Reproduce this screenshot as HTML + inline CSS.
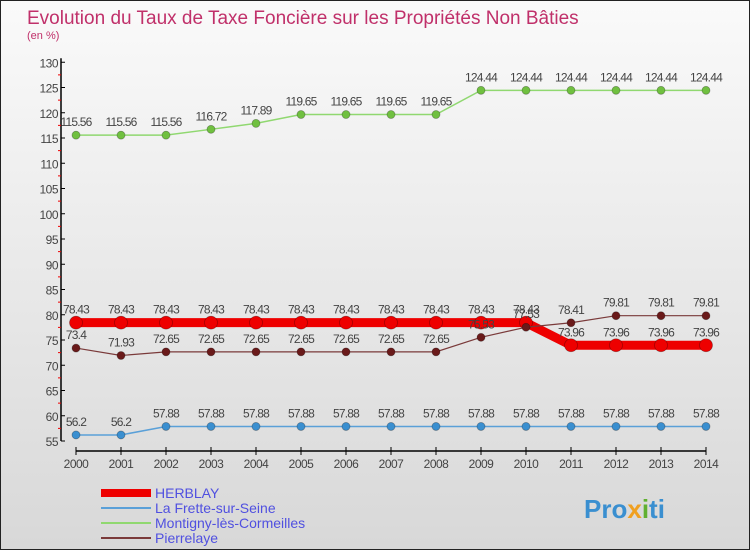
<!DOCTYPE html>
<html><head><meta charset="utf-8"><style>
body{margin:0;width:750px;height:550px;overflow:hidden;font-family:"Liberation Sans","DejaVu Sans",sans-serif}
#wrap{position:absolute;left:0;top:0;width:748px;height:548px;border:1px solid #222;background:linear-gradient(#fafafa,#d8d8d8)}
</style></head><body>
<div id="wrap">
<svg id="chart" width="748" height="548" xmlns="http://www.w3.org/2000/svg">
<text x="26" y="23" font-size="19" fill="#c0306a">Evolution du Taux de Taxe Foncière sur les Propriétés Non Bâties</text>
<text x="26" y="38" font-size="11" fill="#c0306a">(en %)</text>
<g id="axes"></g><g id="series"></g><g id="legend"></g>
<text x="583" y="517" font-size="26" font-weight="bold" fill="#3a8fd0">Pro<tspan fill="#f0a020">x</tspan><tspan fill="#60b030">i</tspan>ti</text>
</svg></div>
<script>
const years=[2000,2001,2002,2003,2004,2005,2006,2007,2008,2009,2010,2011,2012,2013,2014];
const herblay=[78.43,78.43,78.43,78.43,78.43,78.43,78.43,78.43,78.43,78.43,78.43,73.96,73.96,73.96,73.96];
const frette=[56.2,56.2,57.88,57.88,57.88,57.88,57.88,57.88,57.88,57.88,57.88,57.88,57.88,57.88,57.88];
const montigny=[115.56,115.56,115.56,116.72,117.89,119.65,119.65,119.65,119.65,124.44,124.44,124.44,124.44,124.44,124.44];
const pierrelaye=[73.4,71.93,72.65,72.65,72.65,72.65,72.65,72.65,72.65,75.53,77.53,78.41,79.81,79.81,79.81];
const yTicks=[55,60,65,70,75,80,85,90,95,100,105,110,115,120,125,130];
const seriesNames=["HERBLAY","La Frette-sur-Seine","Montigny-lès-Cormeilles","Pierrelaye"];
const NS="http://www.w3.org/2000/svg";
const x=i=>75+i*45.0;
const y=v=>440-(v-55)*5.05;
function mk(tag,attrs,parent,txt){const e=document.createElementNS(NS,tag);for(const k in attrs)e.setAttribute(k,attrs[k]);if(txt!==undefined)e.textContent=txt;parent.appendChild(e);return e;}
const ax=document.getElementById('axes');
let l=mk('line',{x1:60,y1:y(130)-4,x2:60,y2:y(55),stroke:'#000','stroke-width':1.5},ax);


yTicks.forEach(t=>{mk('line',{x1:60,y1:y(t),x2:64,y2:y(t),stroke:'#000'},ax);
 if(t<130)mk('line',{x1:57,y1:y(t+2.5),x2:60,y2:y(t+2.5),stroke:'#e00'},ax);
 const tx=mk('text',{x:57,y:y(t)+5,'font-size':12,fill:'#444','text-anchor':'end','letter-spacing':'-0.5'},ax,t);
 
 });
l=mk('line',{x1:75,y1:450,x2:705,y2:450,stroke:'#000','stroke-width':1.5},ax);


years.forEach((yr,i)=>{mk('line',{x1:x(i),y1:446,x2:x(i),y2:454,stroke:'#000'},ax);
 const tx=mk('text',{x:x(i),y:467,'font-size':12,fill:'#444','text-anchor':'middle','letter-spacing':'-0.5'},ax,yr);
 
 });
const sg=document.getElementById('series');
function draw(vals,name,color,lw,r,dotFill){
 const g=mk('g',{},sg);
 
 
 mk('polyline',{points:vals.map((v,i)=>x(i)+','+y(v)).join(' '),fill:'none',stroke:color,'stroke-width':lw},g);
 vals.forEach((v,i)=>{const c=mk('circle',{cx:x(i),cy:y(v),r:r,fill:dotFill,stroke:'rgba(0,0,0,0.3)','stroke-width':0.8},g);
  
  
  mk('text',{x:x(i),y:y(v)-9,'font-size':12,fill:'#444','text-anchor':'middle','letter-spacing':'-0.8'},g,v);});
}
draw(frette,'la-frette','#5aa0d8',1.5,4,'#3a8fd0');
draw(montigny,'montigny','#90d870',1.5,4,'#70c040');
draw(herblay,'herblay','#ee0000',9,6.5,'#ee0000');
draw(pierrelaye,'pierrelaye','#7a3a3a',1.2,4,'#6a1a1a');
const lg=document.getElementById('legend');
const lc=['#ee0000','#5aa0d8','#90d870','#7a3a3a'],lw=[8,2,2,2];
seriesNames.forEach((n,i)=>{const yy=492+i*15;
 const g=mk('g',{},lg);
 
 
 mk('line',{x1:100,y1:yy,x2:150,y2:yy,stroke:lc[i],'stroke-width':lw[i]},g);
 mk('text',{x:154,y:yy+5,'font-size':14,fill:'#5050e0'},g,n);});
</script></body></html>
